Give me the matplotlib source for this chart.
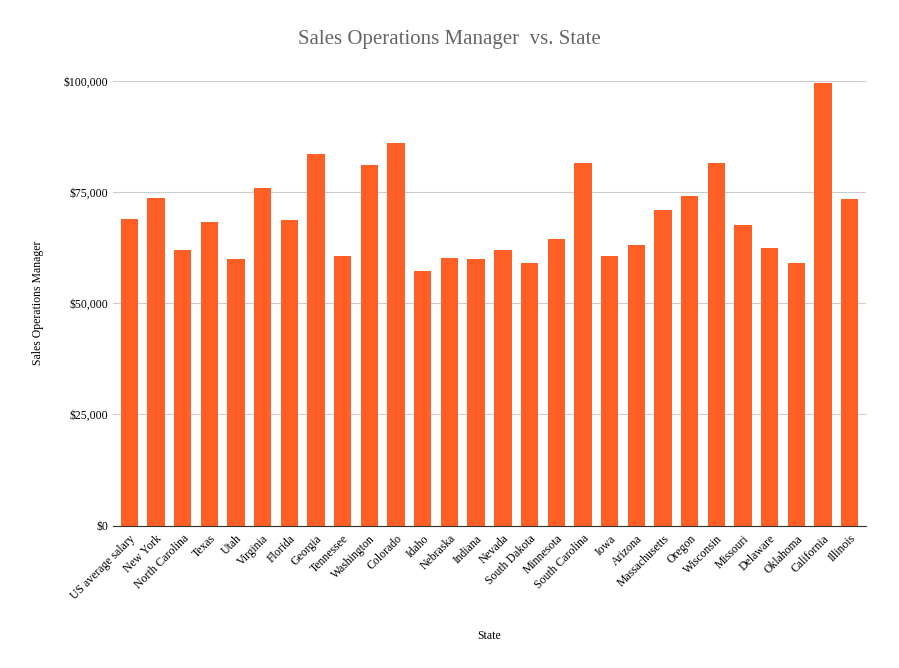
import matplotlib.pyplot as plt
from matplotlib.ticker import FuncFormatter

states = ["US average salary", "New York", "North Carolina", "Texas", "Utah", "Virginia",
          "Florida", "Georgia", "Tennessee", "Washington", "Colorado", "Idaho", "Nebraska",
          "Indiana", "Nevada", "South Dakota", "Minnesota", "South Carolina", "Iowa",
          "Arizona", "Massachusetts", "Oregon", "Wisconsin", "Missouri", "Delaware",
          "Oklahoma", "California", "Illinois"]
salaries = [69000, 73700, 62000, 68300, 60000, 76000, 68800, 83600, 60700, 81100, 86100,
            57300, 60200, 60000, 62000, 59100, 64400, 81500, 60700, 63100, 71000, 74200,
            81500, 67700, 62500, 59100, 99600, 73500]

plt.rcParams["font.family"] = "Liberation Serif"
fig = plt.figure(figsize=(8.99, 6.68), dpi=100)
ax = fig.add_axes([0.126, 0.213, 0.837, 0.666])

ax.bar(range(len(states)), salaries, width=0.65, color="#ff5e24", zorder=2)
ax.set_ylim(0, 100000)
ax.set_xlim(-0.6, len(states) - 0.4)
ax.set_yticks([0, 25000, 50000, 75000, 100000])
ax.yaxis.set_major_formatter(FuncFormatter(lambda v, p: f"${v:,.0f}"))
ax.grid(axis="y", color="#cccccc", linewidth=0.8, zorder=0)
ax.set_xticks(range(len(states)))
ax.set_xticklabels(states, rotation=45, ha="right", rotation_mode="anchor", fontsize=8.5)
ax.tick_params(axis="y", labelsize=8.5, length=0)
ax.tick_params(axis="x", length=0, pad=5)
for s in ["top", "right", "left"]:
    ax.spines[s].set_visible(False)
ax.spines["bottom"].set_color("#333333")

ax.set_xlabel("State", fontsize=8.5)
ax.xaxis.set_label_coords(0.5, -0.235)
ax.set_ylabel("Sales Operations Manager", fontsize=8.5, labelpad=14)
fig.suptitle("Sales Operations Manager  vs. State", y=0.955, fontsize=15, color="#666666")

fig.savefig("out.png", dpi=100)
